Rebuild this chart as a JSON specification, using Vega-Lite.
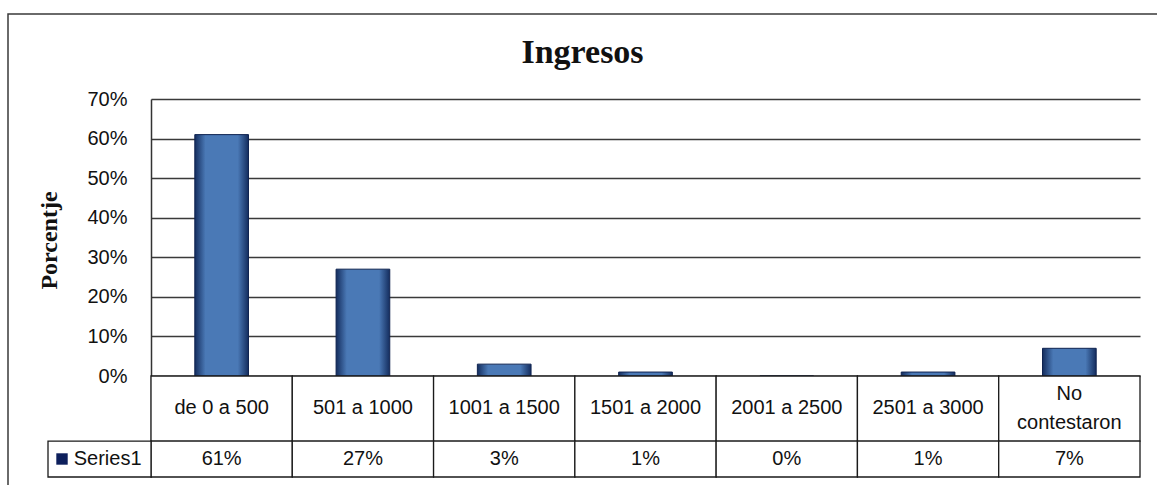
{
  "$schema": "https://vega.github.io/schema/vega-lite/v6.json",
  "width": 1149,
  "height": 471,
  "autosize": {"type": "none"},
  "padding": {"left": 8, "top": 14, "right": 0, "bottom": 0},
  "background": "white",
  "config": {
    "view": {"stroke": "#3a3a3a", "strokeWidth": 1.5, "strokeDash": [1149, 1620, 471, 10]},
    "font": "Liberation Sans"
  },
  "title": {
    "text": "Ingresos",
    "font": "Liberation Serif",
    "fontSize": 34,
    "fontWeight": "bold",
    "color": "#111111",
    "anchor": "middle",
    "baseline": "alphabetic",
    "offset": -83
  },
  "datasets": {
    "ingresos": [
      {"rango": "de 0 a 500", "pct": 0.61},
      {"rango": "501 a 1000", "pct": 0.27},
      {"rango": "1001 a 1500", "pct": 0.03},
      {"rango": "1501 a 2000", "pct": 0.01},
      {"rango": "2001 a 2500", "pct": 0.0},
      {"rango": "2501 a 3000", "pct": 0.01},
      {"rango": "No\ncontestaron", "pct": 0.07}
    ],
    "serie": [{"serie": "Series1"}]
  },
  "resolve": {"scale": {"x": "independent"}},
  "layer": [
    {
      "data": {"name": "ingresos"},
      "encoding": {
        "x": {
          "field": "rango",
          "type": "nominal",
          "sort": null,
          "scale": {
            "domain": ["de 0 a 500", "501 a 1000", "1001 a 1500", "1501 a 2000", "2001 a 2500", "2501 a 3000", "No\ncontestaron"],
            "range": [143, 1132],
            "paddingInner": 0,
            "paddingOuter": 0
          },
          "axis": null
        }
      },
      "layer": [
        {
          "mark": {
            "type": "bar",
            "width": {"band": 0.38},
            "fill": {
              "gradient": "linear",
              "x1": 0, "x2": 1, "y1": 0, "y2": 0,
              "stops": [
                {"offset": 0, "color": "#142d5e"},
                {"offset": 0.2, "color": "#4a79b6"},
                {"offset": 0.8, "color": "#4a79b6"},
                {"offset": 1, "color": "#142d5e"}
              ]
            },
            "stroke": "#0f2350",
            "strokeWidth": 1
          },
          "encoding": {
            "y": {
              "field": "pct",
              "type": "quantitative",
              "title": "Porcentje",
              "scale": {"domain": [-0.2552, 0.7], "range": [463, 85], "nice": false, "zero": false},
              "axis": {
                "values": [0, 0.1, 0.2, 0.3, 0.4, 0.5, 0.6, 0.7],
                "format": ".0%",
                "offset": -143,
                "domainColor": "#333333",
                "domainWidth": 1.5,
                "ticks": false,
                "tickSize": 0,
                "labelPadding": 24,
                "labelFont": "Liberation Sans",
                "labelFontSize": 20,
                "labelColor": "#111111",
                "gridColor": "#3a3a3a",
                "gridWidth": 1.5,
                "gridOpacity": 1,
                "titleFont": "Liberation Serif",
                "titleFontSize": 24,
                "titleFontWeight": "bold",
                "titleColor": "#111111",
                "titleAngle": -90,
                "titleAlign": "center",
                "titleBaseline": "alphabetic",
                "titleX": -95,
                "titleY": 226
              }
            }
          }
        },
        {
          "mark": {"type": "rect", "fill": "white", "stroke": "#1a1a1a", "strokeWidth": 1.3},
          "encoding": {"y": {"datum": 0}, "y2": {"datum": -0.1643}}
        },
        {
          "mark": {"type": "rect", "fill": "white", "stroke": "#1a1a1a", "strokeWidth": 1.3},
          "encoding": {"y": {"datum": -0.1643}, "y2": {"datum": -0.2552}}
        },
        {
          "transform": [{"filter": "indexof(datum.rango, '\\n') < 0"}],
          "mark": {"type": "text", "fontSize": 20, "color": "#111111", "baseline": "middle"},
          "encoding": {"y": {"datum": -0.082}, "text": {"field": "rango"}}
        },
        {
          "transform": [{"filter": "indexof(datum.rango, '\\n') >= 0"}],
          "mark": {"type": "text", "lineBreak": "\n", "lineHeight": 29, "fontSize": 20, "color": "#111111", "baseline": "middle"},
          "encoding": {"y": {"datum": -0.0455}, "text": {"field": "rango"}}
        },
        {
          "mark": {"type": "text", "fontSize": 20, "color": "#111111", "baseline": "middle"},
          "encoding": {"y": {"datum": -0.2097}, "text": {"field": "pct", "format": ".0%"}}
        }
      ]
    },
    {
      "data": {"name": "serie"},
      "encoding": {
        "x": {
          "field": "serie",
          "type": "nominal",
          "scale": {"range": [40, 143], "paddingInner": 0, "paddingOuter": 0},
          "axis": null
        }
      },
      "layer": [
        {
          "mark": {"type": "rect", "fill": "white", "stroke": "#1a1a1a", "strokeWidth": 1.3},
          "encoding": {"y": {"datum": -0.1643}, "y2": {"datum": -0.2552}}
        },
        {
          "mark": {"type": "square", "size": 130, "filled": true, "color": "#0d1f5c", "opacity": 1},
          "encoding": {"x": {"field": "serie", "type": "nominal", "bandPosition": 0.136}, "y": {"datum": -0.2097}}
        },
        {
          "mark": {"type": "text", "fontSize": 20, "color": "#111111", "align": "left", "baseline": "middle"},
          "encoding": {"x": {"field": "serie", "type": "nominal", "bandPosition": 0.25}, "y": {"datum": -0.2097}, "text": {"field": "serie"}}
        }
      ]
    }
  ]
}
